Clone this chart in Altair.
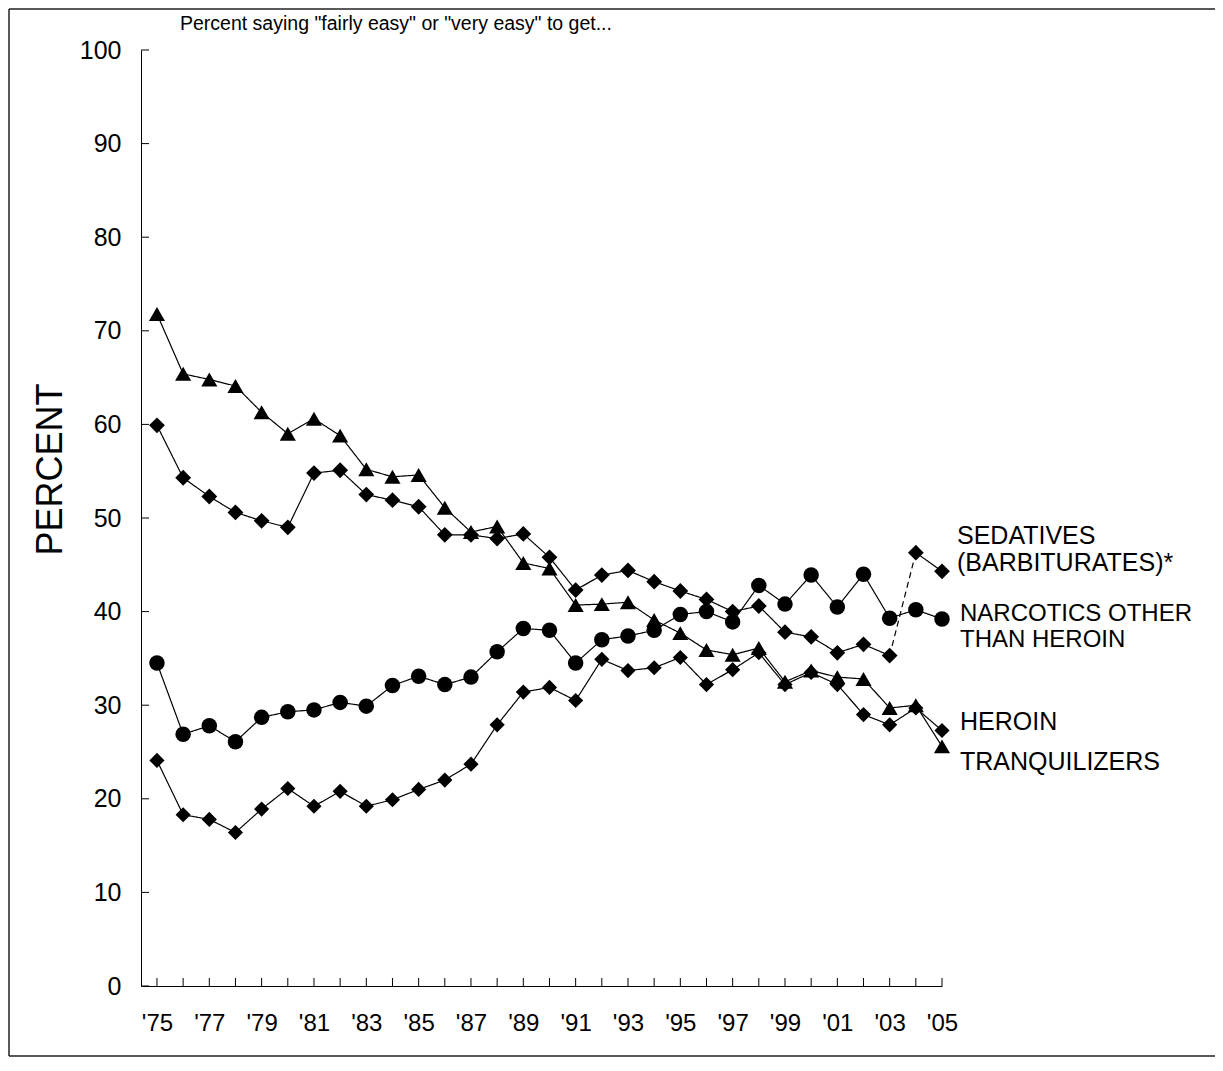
import altair as alt
import pandas as pd

years = list(range(1975, 2006))
tranquilizers = [71.8, 65.4, 64.8, 64.1, 61.3, 59.0, 60.6, 58.8, 55.2, 54.4,
                 54.6, 51.1, 48.5, 49.1, 45.2, 44.6, 40.7, 40.8, 41.0, 39.1,
                 37.7, 35.9, 35.4, 36.1, 32.5, 33.7, 33.0, 32.8, 29.7, 30.0, 25.6]
sedatives = [59.9, 54.3, 52.3, 50.6, 49.7, 49.0, 54.8, 55.1, 52.5, 51.9,
             51.2, 48.2, 48.2, 47.8, 48.3, 45.8, 42.3, 43.9, 44.4, 43.2,
             42.2, 41.3, 40.0, 40.6, 37.8, 37.3, 35.6, 36.5, 35.3, 46.3, 44.3]
narcotics = [34.5, 26.9, 27.8, 26.1, 28.7, 29.3, 29.5, 30.3, 29.9, 32.1,
             33.1, 32.2, 33.0, 35.7, 38.2, 38.0, 34.5, 37.0, 37.4, 38.0,
             39.7, 40.0, 38.9, 42.8, 40.8, 43.9, 40.5, 44.0, 39.3, 40.2, 39.2]
heroin = [24.1, 18.3, 17.8, 16.4, 18.9, 21.1, 19.2, 20.8, 19.2, 19.9,
          21.0, 22.0, 23.7, 27.9, 31.4, 31.9, 30.5, 34.9, 33.7, 34.0,
          35.1, 32.2, 33.8, 35.6, 32.2, 33.5, 32.2, 29.0, 27.9, 29.7, 27.3]

series_names = ["Tranquilizers", "Sedatives", "Narcotics", "Heroin"]
series_shapes = ["triangle-up", "diamond", "circle", "diamond"]
series_sizes = [260, 230, 110, 230]
series_values = [tranquilizers, sedatives, narcotics, heroin]
question_change_year = 2004  # sedatives question changed: dashed connector

x_tick_years = list(range(1975, 2006))
x_label_years = list(range(1975, 2006, 2))
y_ticks = list(range(0, 101, 10))

sed_label_text = ["SEDATIVES", "(BARBITURATES)*"]
sed_label_y = [48.1, 45.2]
narc_label_text = ["NARCOTICS OTHER", "THAN HEROIN"]
narc_label_y = [39.7, 37.0]
other_label_text = ["HEROIN", "TRANQUILIZERS"]
other_label_y = [28.2, 23.9]

title_text = 'Percent saying "fairly easy" or "very easy" to get...'

# ---- build tables ----
pts, lines = [], []
for name, vals in zip(series_names, series_values):
    for y, v in zip(years, vals):
        pts.append({"series": name, "year": y, "value": v})
        seg = name
        if name == "Sedatives" and y >= question_change_year:
            seg = name + "-new"
        lines.append({"seg": seg, "year": y, "value": v, "dash": "solid"})
i0 = years.index(question_change_year - 1)
for k in (i0, i0 + 1):
    lines.append({"seg": "Sedatives-dash", "year": years[k], "value": sedatives[k], "dash": "dash"})

pts_df = pd.DataFrame(pts)
lines_df = pd.DataFrame(lines)
xt_df = pd.DataFrame({"year": x_tick_years})
yt_df = pd.DataFrame({"value": y_ticks})


def label_df(texts, ys):
    return pd.DataFrame({"text": texts, "value": ys, "year": [2005] * len(texts)})


W, H = 801, 936
xscale = alt.Scale(domain=[1974.39, 2005], nice=False, zero=False)
yscale = alt.Scale(domain=[0, 100], nice=False, zero=False)

x_axis = alt.Axis(values=x_label_years, ticks=False, grid=False, domainColor="black",
                  labelExpr="\"'\" + substring(toString(datum.value), 2, 4)",
                  labelFontSize=24, labelPadding=25, labelColor="black", title=None,
                  labelFlush=False, labelOverlap=False)
y_axis = alt.Axis(values=y_ticks, ticks=False, grid=False, domainColor="black",
                  labelFontSize=25, labelPadding=20, labelColor="black",
                  title="PERCENT", titleFontSize=36, titleFontWeight="normal",
                  titleColor="black", titleAngle=-90, titleX=-91, titleY=419,
                  titleAlign="center", titleBaseline="middle")

line_layer = alt.Chart(lines_df).mark_line(color="black", strokeWidth=1.2).encode(
    x=alt.X("year:Q", scale=xscale, axis=x_axis),
    y=alt.Y("value:Q", scale=yscale, axis=y_axis),
    detail="seg:N",
    strokeDash=alt.StrokeDash("dash:N", scale=alt.Scale(domain=["solid", "dash"],
                                                        range=[[1, 0], [6, 4]]), legend=None),
)

point_layer = alt.Chart(pts_df).mark_point(filled=True, color="black", opacity=1).encode(
    x=alt.X("year:Q", scale=xscale),
    y=alt.Y("value:Q", scale=yscale),
    shape=alt.Shape("series:N", scale=alt.Scale(domain=series_names, range=series_shapes), legend=None),
    size=alt.Size("series:N", scale=alt.Scale(domain=series_names, range=series_sizes), legend=None),
)

xtick_layer = alt.Chart(xt_df).mark_rule(color="black", strokeWidth=1).encode(
    x=alt.X("year:Q", scale=xscale),
    y=alt.value(H), y2=alt.value(H - 8),
)
ytick_layer = alt.Chart(yt_df).mark_rule(color="black", strokeWidth=1).encode(
    y=alt.Y("value:Q", scale=yscale),
    x=alt.value(0), x2=alt.value(8),
)

sed_label_layer = alt.Chart(label_df(sed_label_text, sed_label_y)).mark_text(
    align="left", baseline="middle", fontSize=25, color="black", dx=15).encode(
    x=alt.X("year:Q", scale=xscale), y=alt.Y("value:Q", scale=yscale), text="text:N")
narc_label_layer = alt.Chart(label_df(narc_label_text, narc_label_y)).mark_text(
    align="left", baseline="middle", fontSize=24, color="black", dx=18).encode(
    x=alt.X("year:Q", scale=xscale), y=alt.Y("value:Q", scale=yscale), text="text:N")
oth_label_layer = alt.Chart(label_df(other_label_text, other_label_y)).mark_text(
    align="left", baseline="middle", fontSize=25, color="black", dx=18).encode(
    x=alt.X("year:Q", scale=xscale), y=alt.Y("value:Q", scale=yscale), text="text:N")

title_layer = alt.Chart(pd.DataFrame({"t": [title_text]})).mark_text(
    align="left", baseline="alphabetic", fontSize=19.5, color="black").encode(
    x=alt.value(39), y=alt.value(-20), text="t:N")

frame_df = pd.DataFrame({"k": [0]})
frame_left = alt.Chart(frame_df).mark_rule(color="#222", strokeWidth=1.5).encode(
    x=alt.value(-132), y=alt.value(-41), y2=alt.value(1006))
frame_top = alt.Chart(frame_df).mark_rule(color="#222", strokeWidth=1.5).encode(
    x=alt.value(-132), x2=alt.value(1090), y=alt.value(-41))
frame_bottom = alt.Chart(frame_df).mark_rule(color="#222", strokeWidth=1.5).encode(
    x=alt.value(-132), x2=alt.value(1090), y=alt.value(1006))

chart = alt.layer(
    line_layer, point_layer, xtick_layer, ytick_layer, sed_label_layer, narc_label_layer,
    oth_label_layer, title_layer, frame_left, frame_top, frame_bottom
).properties(
    width=W, height=H,
    autosize=alt.AutoSizeParams(type="none"),
    padding={"left": 133, "top": 42, "right": 273, "bottom": 72},
).configure(font="Liberation Sans").configure_view(stroke=None).configure_axis(
    labelFont="Liberation Sans", titleFont="Liberation Sans")

chart.save("out.html", embed_options={"renderer": "svg", "actions": False})
